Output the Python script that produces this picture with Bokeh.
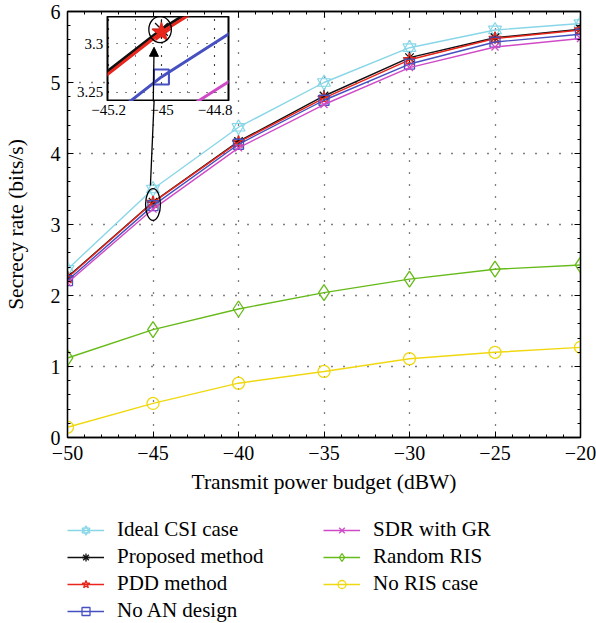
from bokeh.plotting import figure
from bokeh.models import (Legend, LegendItem, FixedTicker, LinearAxis, Range1d,
                          Arrow, NormalHead, CustomJSTickFormatter)
from bokeh.core.properties import value
from bokeh.layouts import column
from bokeh.embed import file_html
from bokeh.resources import INLINE

# ---------------- data ----------------
power_dbw = [-50, -45, -40, -35, -30, -25, -20]
ideal_csi = [2.37, 3.50, 4.37, 5.00, 5.49, 5.74, 5.83]
proposed = [2.26, 3.315, 4.17, 4.81, 5.35, 5.63, 5.75]
pdd_method = [2.25, 3.312, 4.16, 4.78, 5.32, 5.62, 5.74]
no_an = [2.21, 3.266, 4.13, 4.75, 5.26, 5.57, 5.68]
sdr_gr = [2.18, 3.217, 4.08, 4.69, 5.21, 5.50, 5.62]
random_ris = [1.12, 1.52, 1.81, 2.04, 2.23, 2.37, 2.43]
no_ris = [0.145, 0.48, 0.765, 0.93, 1.11, 1.20, 1.27]

x_ticks = [-50, -45, -40, -35, -30, -25, -20]
x_tick_labels = ["\u221250", "\u221245", "\u221240", "\u221235", "\u221230", "\u221225", "\u221220"]
y_ticks = [0, 1, 2, 3, 4, 5, 6]
y_tick_labels = ["0", "1", "2", "3", "4", "5", "6"]
inset_x_ticks = [-45.2, -45.0, -44.8]
inset_x_tick_labels = ["\u221245.2", "\u221245", "\u221244.8"]
inset_y_ticks = [3.25, 3.3]
inset_y_tick_labels = ["3.25", "3.3"]

labels = ["Ideal CSI case", "Proposed method", "PDD method", "No AN design",
          "SDR with GR", "Random RIS", "No RIS case"]

# ---------------- layout constants ----------------
MAIN_X = (-50, -20)
MAIN_Y = (0, 6)
FRAME = dict(left=65, top=11, width=515, height=426, right=16)   # main frame, px
INSET_X = (-45.205, -44.745)
INSET_Y = (3.2407, 3.3282)
INSET = dict(left=105, top=16, width=123, height=85)             # inset frame, px

# annotation geometry (data units)
main_callout = dict(x=-45.0, y=3.282, w=0.87, h=0.446)
inset_callout = dict(x=-45.005, y=3.3148, w=0.0857, h=0.0269)
main_arrow = dict(x0=-45.15, y0=3.55, x1=-44.89, y1=5.0)
inset_arrow = dict(x0=-45.031, y0=3.2407, x1=-45.028, y1=3.2965)

FONT = "Liberation Serif"
C_IDEAL = "#88d6e8"
C_PROP = "#111111"
C_PDD = "#e8261c"
C_NOAN = "#4650c0"
C_SDR = "#d04ac8"
C_RAND = "#66bb1a"
C_NORIS = "#f0d810"


def px_to_main(px, py):
    x = MAIN_X[0] + (px - FRAME["left"]) * (MAIN_X[1] - MAIN_X[0]) / FRAME["width"]
    y = MAIN_Y[1] - (py - FRAME["top"]) * (MAIN_Y[1] - MAIN_Y[0]) / FRAME["height"]
    return x, y


def inset_x_px(v):
    return INSET["left"] + (v - INSET_X[0]) / (INSET_X[1] - INSET_X[0]) * INSET["width"]


def inset_y_px(v):
    return INSET["top"] + (INSET_Y[1] - v) / (INSET_Y[1] - INSET_Y[0]) * INSET["height"]


# ---------------- main figure ----------------
MAIN_H = 510
p = figure(width=596, height=MAIN_H, x_range=Range1d(*MAIN_X), y_range=Range1d(*MAIN_Y),
           output_backend="svg", toolbar_location=None,
           min_border_left=FRAME["left"], min_border_right=FRAME["right"],
           min_border_top=FRAME["top"],
           min_border_bottom=MAIN_H - FRAME["top"] - FRAME["height"],
           background_fill_color="white", border_fill_color="white",
           outline_line_color="black", outline_line_width=1.3)

xb = p.below[0]
yl = p.left[0]

xt = FixedTicker(ticks=x_ticks, minor_ticks=list(range(-50, -19)))
yt = FixedTicker(ticks=y_ticks, minor_ticks=[i * 0.2 for i in range(31)])

xb.ticker = xt
xb.major_label_overrides = dict(zip(x_ticks, x_tick_labels))
xb.axis_label = "Transmit power budget (dBW)"
yl.ticker = yt
yl.major_label_overrides = dict(zip(y_ticks, y_tick_labels))
yl.axis_label = "Secrecy rate (bits/s)"

top_ax = LinearAxis(ticker=xt, formatter=CustomJSTickFormatter(code="return ''"))
right_ax = LinearAxis(ticker=yt, formatter=CustomJSTickFormatter(code="return ''"))
p.add_layout(top_ax, "above")
p.add_layout(right_ax, "right")

for ax in [xb, yl, top_ax, right_ax]:
    ax.major_tick_in = 6
    ax.major_tick_out = 0
    ax.minor_tick_in = 3
    ax.minor_tick_out = 0
    ax.axis_line_color = "black"
    ax.axis_line_width = 1.3
    ax.major_tick_line_color = "black"
    ax.minor_tick_line_color = "black"
    ax.major_label_text_font = FONT
    ax.major_label_text_font_size = "20px"
    ax.major_label_text_color = "black"
    ax.axis_label_text_font = FONT
    ax.axis_label_text_font_size = "21.5px"
    ax.axis_label_text_font_style = "normal"
    ax.axis_label_text_color = "black"
for ax in [top_ax, right_ax]:
    ax.major_label_standoff = 0
    ax.major_label_text_font_size = "1px"
xb.major_label_standoff = 8
xb.axis_label_standoff = 7
yl.major_label_standoff = 7
yl.axis_label_standoff = 20

for g in [p.xgrid[0], p.ygrid[0]]:
    g.grid_line_color = "black"
    g.grid_line_dash = "1 11"
    g.grid_line_width = 1.3


def draw_series(fig, lw, scale):
    r = []
    l = fig.line(power_dbw, ideal_csi, line_color=C_IDEAL, line_width=lw)
    m1 = fig.scatter(power_dbw, ideal_csi, marker="triangle", size=13 * scale,
                     fill_color=None, line_color=C_IDEAL, line_width=1.2)
    m2 = fig.scatter(power_dbw, ideal_csi, marker="inverted_triangle", size=13 * scale,
                     fill_color=None, line_color=C_IDEAL, line_width=1.2)
    r.append([l, m1, m2])
    l = fig.line(power_dbw, proposed, line_color=C_PROP, line_width=lw)
    m = fig.scatter(power_dbw, proposed, marker="asterisk", size=12 * scale,
                    line_color=C_PROP, line_width=1.3)
    r.append([l, m])
    l = fig.line(power_dbw, pdd_method, line_color=C_PDD, line_width=lw)
    m = fig.scatter(power_dbw, pdd_method, marker="star", size=13 * scale,
                    fill_color=C_PDD if scale > 1 else None, line_color=C_PDD, line_width=1.3)
    r.append([l, m])
    l = fig.line(power_dbw, no_an, line_color=C_NOAN, line_width=lw)
    m = fig.scatter(power_dbw, no_an, marker="square", size=10 * scale,
                    fill_color=None, line_color=C_NOAN, line_width=1.3 * (1.6 if scale > 1 else 1))
    r.append([l, m])
    l = fig.line(power_dbw, sdr_gr, line_color=C_SDR, line_width=lw)
    m = fig.scatter(power_dbw, sdr_gr, marker="x", size=10 * scale,
                    line_color=C_SDR, line_width=1.3)
    r.append([l, m])
    l = fig.line(power_dbw, random_ris, line_color=C_RAND, line_width=lw)
    m = fig.scatter(power_dbw, random_ris, marker="diamond", size=16 * scale,
                    fill_color=None, line_color=C_RAND, line_width=1.3)
    r.append([l, m])
    l = fig.line(power_dbw, no_ris, line_color=C_NORIS, line_width=lw)
    m = fig.scatter(power_dbw, no_ris, marker="circle", size=12 * scale,
                    fill_color=None, line_color=C_NORIS, line_width=1.3)
    r.append([l, m])
    return r


draw_series(p, 1.4, 1)

p.ellipse(x=[main_callout["x"]], y=[main_callout["y"]], width=main_callout["w"],
          height=main_callout["h"], fill_color=None, line_color="black", line_width=1.3)
p.add_layout(Arrow(x_start=main_arrow["x0"], y_start=main_arrow["y0"],
                   x_end=main_arrow["x1"], y_end=main_arrow["y1"], end=None,
                   line_color="black", line_width=1.3))

# inset tick labels, drawn in the main figure just outside the inset frame
ixl = [px_to_main(inset_x_px(v), INSET["top"] + INSET["height"] + 3) for v in inset_x_ticks]
p.text(x=[a for a, b in ixl], y=[b for a, b in ixl], text=inset_x_tick_labels,
       text_font=value(FONT), text_font_size="15px", text_color="black",
       text_align="center", text_baseline="top")
iyl = [px_to_main(INSET["left"] - 4, inset_y_px(v)) for v in inset_y_ticks]
p.text(x=[a for a, b in iyl], y=[b for a, b in iyl], text=inset_y_tick_labels,
       text_font=value(FONT), text_font_size="15px", text_color="black",
       text_align="right", text_baseline="middle")

# ---------------- legend strip ----------------
LEG_H = 623 - MAIN_H
lf = figure(width=596, height=LEG_H, x_range=Range1d(0, 1), y_range=Range1d(0, 1),
            output_backend="svg", toolbar_location=None,
            x_axis_location=None, y_axis_location=None,
            min_border_left=FRAME["left"], min_border_right=FRAME["right"],
            min_border_top=7, min_border_bottom=0,
            outline_line_color=None, background_fill_color="white", border_fill_color="white")
lf.grid.visible = False
lrends = draw_series(lf, 1.4, 1)   # data lies outside this strip's ranges; used for legend keys

common = dict(orientation="vertical", glyph_width=37, glyph_height=20, label_standoff=13,
              label_height=20, spacing=2, padding=0, margin=0,
              border_line_color=None, background_fill_alpha=0,
              label_text_font=FONT, label_text_font_size="21px", label_text_color="black")
leg1 = Legend(items=[LegendItem(label=labels[i], renderers=lrends[i]) for i in range(4)],
              location="top_left", **common)
leg2 = Legend(items=[LegendItem(label=labels[i], renderers=lrends[i]) for i in range(4, 7)],
              location="top_right", label_width=207, **common)
lf.add_layout(leg1, "center")
lf.add_layout(leg2, "center")

# ---------------- inset figure ----------------
# (frames in a column get aligned to the main frame's side borders, so keep the same borders
#  and shift the canvas so that the inset frame lands on its place)
ins = figure(width=FRAME["left"] + INSET["width"] + FRAME["right"], height=INSET["height"],
             x_range=Range1d(*INSET_X), y_range=Range1d(*INSET_Y),
             output_backend="svg", toolbar_location=None,
             x_axis_location=None, y_axis_location=None,
             min_border_left=FRAME["left"], min_border_right=FRAME["right"],
             min_border_top=0, min_border_bottom=0,
             background_fill_color="white", border_fill_color=None,
             outline_line_color="black", outline_line_width=2)
ins.styles = {"position": "absolute", "left": f"{INSET['left'] - FRAME['left']}px",
              "top": f"{INSET['top']}px", "z-index": "5"}

ixt = FixedTicker(ticks=inset_x_ticks, minor_ticks=[-45.2, -45.1, -45.0, -44.9, -44.8])
iyt = FixedTicker(ticks=inset_y_ticks, minor_ticks=[])
ins.xgrid[0].ticker = ixt
ins.ygrid[0].ticker = iyt
ins.xgrid[0].minor_grid_line_color = "black"
ins.xgrid[0].minor_grid_line_dash = "1 8"
for g in [ins.xgrid[0], ins.ygrid[0]]:
    g.grid_line_color = "black"
    g.grid_line_dash = "1 8"
    g.grid_line_width = 1.2

draw_series(ins, 3.0, 1.5)
ins.ellipse(x=[inset_callout["x"]], y=[inset_callout["y"]], width=inset_callout["w"],
            height=inset_callout["h"], fill_color=None, line_color="black", line_width=1.3)
ins.add_layout(Arrow(x_start=inset_arrow["x0"], y_start=inset_arrow["y0"],
                     x_end=inset_arrow["x1"], y_end=inset_arrow["y1"],
                     end=NormalHead(size=9, fill_color="black", line_color="black"),
                     line_color="black", line_width=1.3))

layout = column(p, lf, ins)
open("out.html", "w").write(file_html(layout, INLINE))
